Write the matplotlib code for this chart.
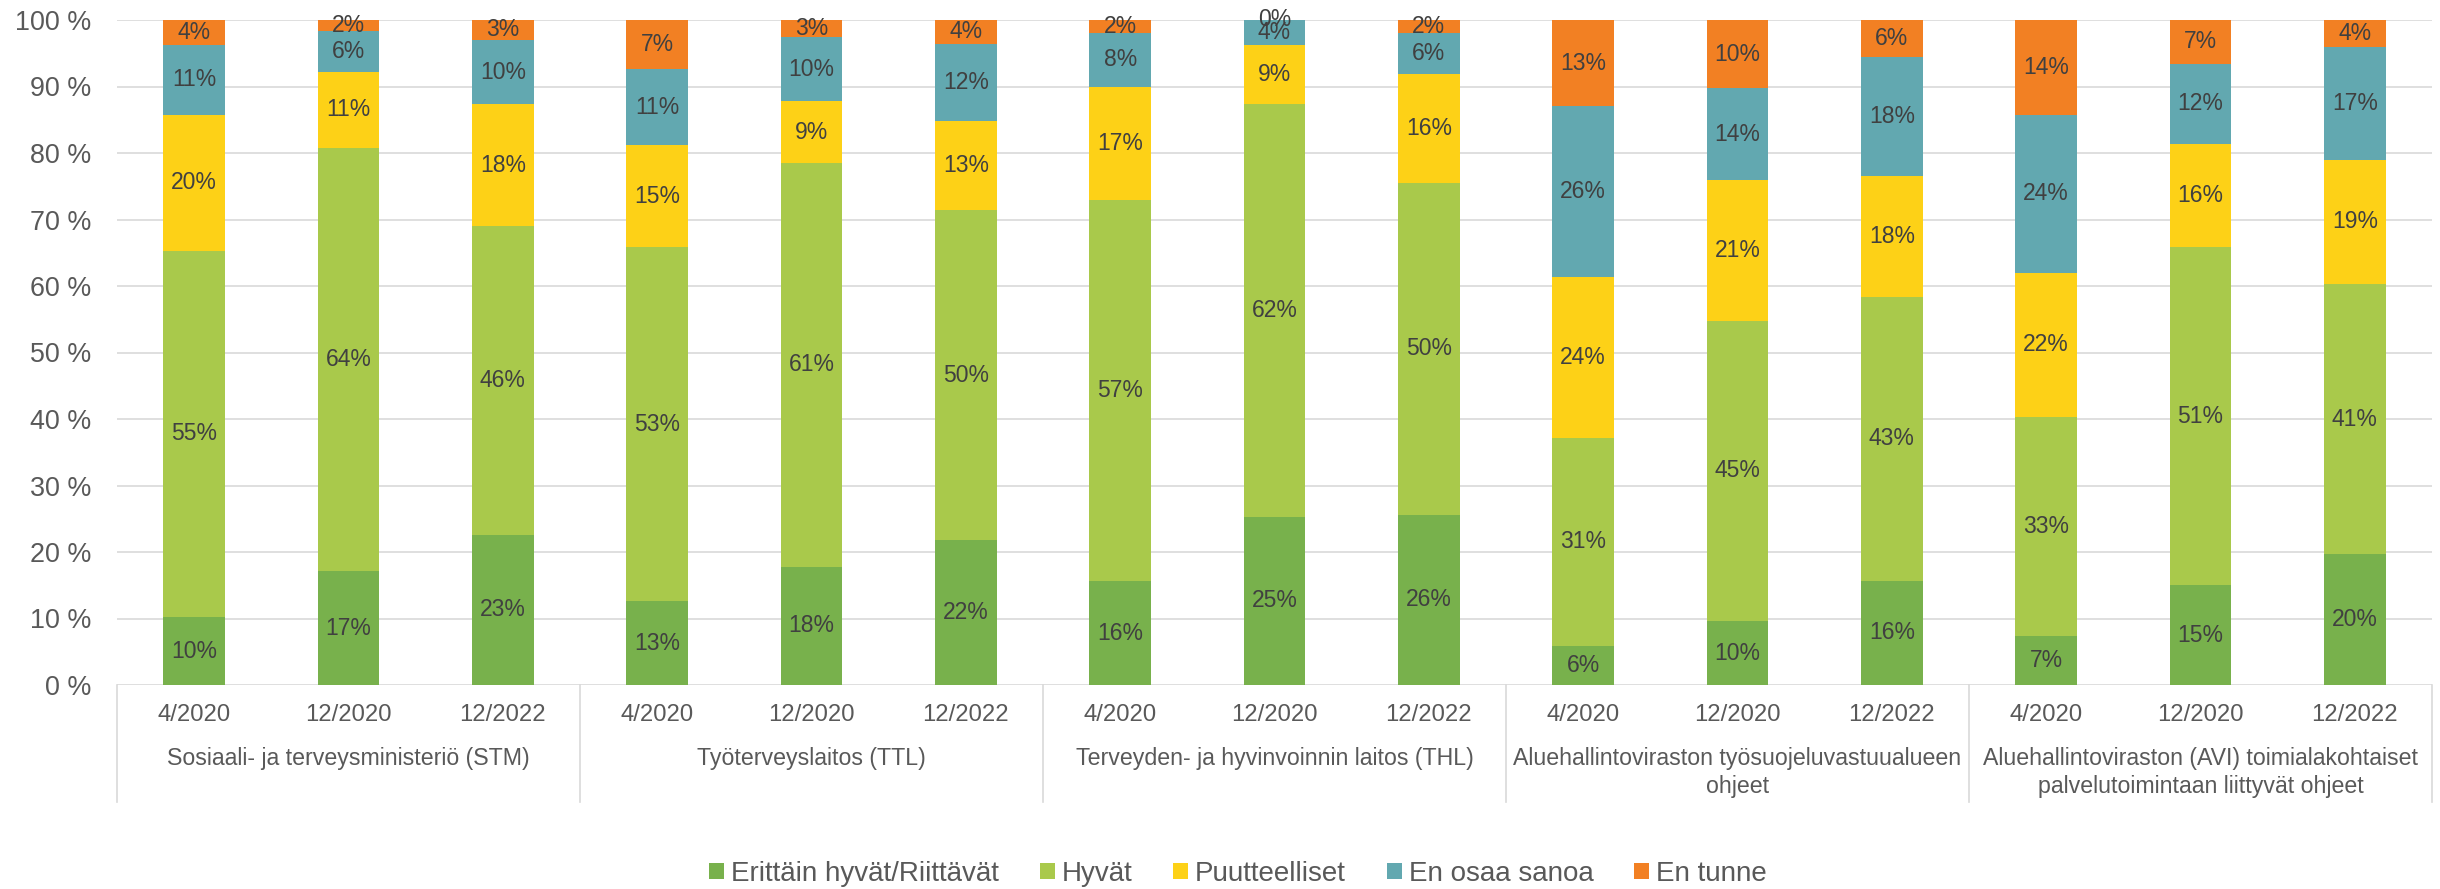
import matplotlib
matplotlib.use("Agg")
import matplotlib.pyplot as plt
import numpy as np

plt.rcParams['font.family'] = ['Liberation Sans', 'DejaVu Sans']

# ---- data ----
groups = [
    "Sosiaali- ja terveysministeriö (STM)",
    "Työterveyslaitos (TTL)",
    "Terveyden- ja hyvinvoinnin laitos (THL)",
    "Aluehallintoviraston työsuojeluvastuualueen\nohjeet",
    "Aluehallintoviraston (AVI) toimialakohtaiset\npalvelutoimintaan liittyvät ohjeet",
]
periods = ["4/2020", "12/2020", "12/2022"]
series_names = ["Erittäin hyvät/Riittävät", "Hyvät", "Puutteelliset", "En osaa sanoa", "En tunne"]

erittain_hyvat = [10.2, 17.1, 22.6, 12.6, 17.8, 21.8, 15.6, 25.3, 25.6, 5.9, 9.6, 15.7, 7.3, 15.0, 19.7]
hyvat          = [55.1, 63.7, 46.4, 53.2, 60.7, 49.6, 57.3, 62.1, 49.9, 31.3, 45.2, 42.6, 33.0, 50.8, 40.6]
puutteelliset  = [20.4, 11.4, 18.3, 15.4, 9.3, 13.4, 17.1, 8.9, 16.4, 24.2, 21.1, 18.3, 21.7, 15.6, 18.7]
en_osaa_sanoa  = [10.6, 6.2, 9.7, 11.4, 9.6, 11.6, 8.0, 3.7, 6.2, 25.6, 13.8, 17.8, 23.7, 12.0, 16.9]
en_tunne       = [3.7, 1.6, 3.0, 7.4, 2.6, 3.6, 2.0, 0.0, 1.9, 13.0, 10.3, 5.6, 14.3, 6.6, 4.1]

colors = ["#78B14C", "#A9C94B", "#FDD117", "#62A8B0", "#F28023"]

series = [erittain_hyvat, hyvat, puutteelliset, en_osaa_sanoa, en_tunne]

W, H = 2440, 889
fig = plt.figure(figsize=(W / 100, H / 100), dpi=100)
ax_left, ax_right, ax_top, ax_bottom = 117, 2432, 20, 685
ax = fig.add_axes([ax_left / W, (H - ax_bottom) / H, (ax_right - ax_left) / W, (ax_bottom - ax_top) / H])

n = len(groups) * len(periods)
x = np.arange(n)
bottom = np.zeros(n)
label_color = "#404040"
text_color = "#595959"
for name, vals, col in zip(series_names, series, colors):
    vals = np.array(vals, dtype=float)
    ax.bar(x, vals, width=0.4, bottom=bottom, color=col, label=name, zorder=3)
    for xi, b, v in zip(x, bottom, vals):
        ax.text(xi, b + v / 2, f"{int(round(v))}%", ha="center", va="center",
                fontsize=16.5, color=label_color, zorder=4)
    bottom += vals

ax.set_xlim(-0.5, n - 0.5)
ax.set_ylim(0, 100)
ax.set_yticks(range(0, 101, 10))
ax.set_yticklabels([f"{v} %" for v in range(0, 101, 10)])
ax.tick_params(axis="y", length=0, pad=18.5, labelsize=19.4, labelcolor=text_color)
ax.set_xticks([])
for s in ax.spines.values():
    s.set_visible(False)
ax.yaxis.grid(True, color="#D9D9D9", linewidth=1.2, zorder=0)
ax.set_axisbelow(True)

axh = ax_bottom - ax_top
trans = ax.get_xaxis_transform()
# period labels
for i in range(n):
    ax.text(x[i], -(715 - ax_bottom) / axh, periods[i % len(periods)], ha="center", va="center",
            fontsize=17.2, color=text_color, transform=trans)
# group labels
for g, name in enumerate(groups):
    cx = g * len(periods) + (len(periods) - 1) / 2
    ax.text(cx, -(747 - ax_bottom) / axh, name, ha="center", va="top", fontsize=16.7,
            color=text_color, transform=trans, linespacing=1.25)
# separators
for g in range(len(groups) + 1):
    xs = g * len(periods) - 0.5
    ax.plot([xs, xs], [0, -(802 - ax_bottom) / axh], transform=trans, clip_on=False,
            color="#D9D9D9", linewidth=1.2)

handles, labels = ax.get_legend_handles_labels()
fig.legend(handles, labels, loc="center", bbox_to_anchor=(1238 / W, 1 - 874 / H), ncol=5,
           frameon=False, fontsize=20, handlelength=0.54, handleheight=0.54,
           handletextpad=0.25, columnspacing=1.47, labelcolor=text_color)

fig.savefig("out.png", dpi=100)
